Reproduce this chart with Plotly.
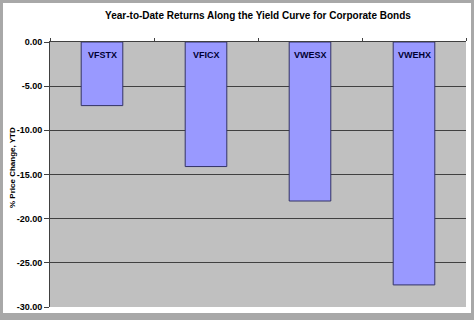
import plotly.graph_objects as go

funds = ["VFSTX", "VFICX", "VWESX", "VWEHX"]
ytd_change = [-7.2, -14.1, -18.0, -27.5]
y_ticks = [0, -5, -10, -15, -20, -25, -30]
y_tick_labels = ["0.00", "-5.00", "-10.00", "-15.00", "-20.00", "-25.00", "-30.00"]

W, H = 474, 320
L, R, T, B = 50, 8, 42, 13
PW, PH = W - L - R, H - T - B
FONT = "Liberation Sans Narrow, Arial Narrow, Liberation Sans, Arial"


def px_x(p):
    return (p - L) / PW


def px_y(p):
    return (H - B - p) / PH


fig = go.Figure()
fig.add_trace(go.Bar(
    x=funds, y=ytd_change,
    marker=dict(color="#9999FF", line=dict(color="#333366", width=1)),
    width=0.4,
    hoverinfo="x+y",
))

for f in funds:
    fig.add_annotation(x=f, y=0, yref="y", xref="x", text="<b>%s</b>" % f,
                       showarrow=False, yanchor="top", yshift=-6,
                       font=dict(family=FONT, size=9, color="#000033"))

fig.add_annotation(x=px_x(12), y=px_y(168), xref="paper", yref="paper",
                   text="<b>% Price Change, YTD</b>", textangle=-90, showarrow=False,
                   xanchor="center", yanchor="middle",
                   font=dict(size=8, family=FONT, color="black"))

frame = "#A8A8A8"
strips = [
    (0, 0, 3, H),      # left
    (W - 3, 0, W, H),  # right
    (0, 0, W, 3),      # top
    (0, H - 7, W, H),  # bottom
]
for x0, y0, x1, y1 in strips:
    fig.add_shape(type="rect", xref="paper", yref="paper",
                  x0=px_x(x0), x1=px_x(x1), y0=px_y(y1), y1=px_y(y0),
                  fillcolor=frame, line=dict(width=0), layer="above")

fig.update_layout(
    width=W, height=H,
    margin=dict(l=L, r=R, t=T, b=B, pad=0),
    paper_bgcolor="white",
    plot_bgcolor="#C0C0C0",
    showlegend=False,
    title=dict(text="<b>Year-to-Date Returns Along the Yield Curve for Corporate Bonds</b>",
               x=0.5, xref="paper", xanchor="center", y=1 - 15 / H, yanchor="middle",
               font=dict(family=FONT, size=10, color="black")),
    font=dict(family=FONT, color="black"),
    bargap=0.6,
)
fig.update_xaxes(side="top", showticklabels=False, ticks="outside", ticklen=3,
                 tickson="boundaries", tickcolor="#404040", showline=True,
                 linecolor="#404040", linewidth=1, showgrid=False, zeroline=False,
                 range=[-0.5, 3.5])
fig.update_yaxes(range=[-30, 0], tickvals=y_ticks, ticktext=["<b>%s</b>" % t for t in y_tick_labels],
                 ticks="outside", ticklen=5, tickcolor="#404040",
                 showline=True, linecolor="#404040", linewidth=1,
                 showgrid=True, gridcolor="#404040", gridwidth=1, zeroline=False,
                 tickfont=dict(size=9, family=FONT, color="black"))

fig.write_html("out.html")
